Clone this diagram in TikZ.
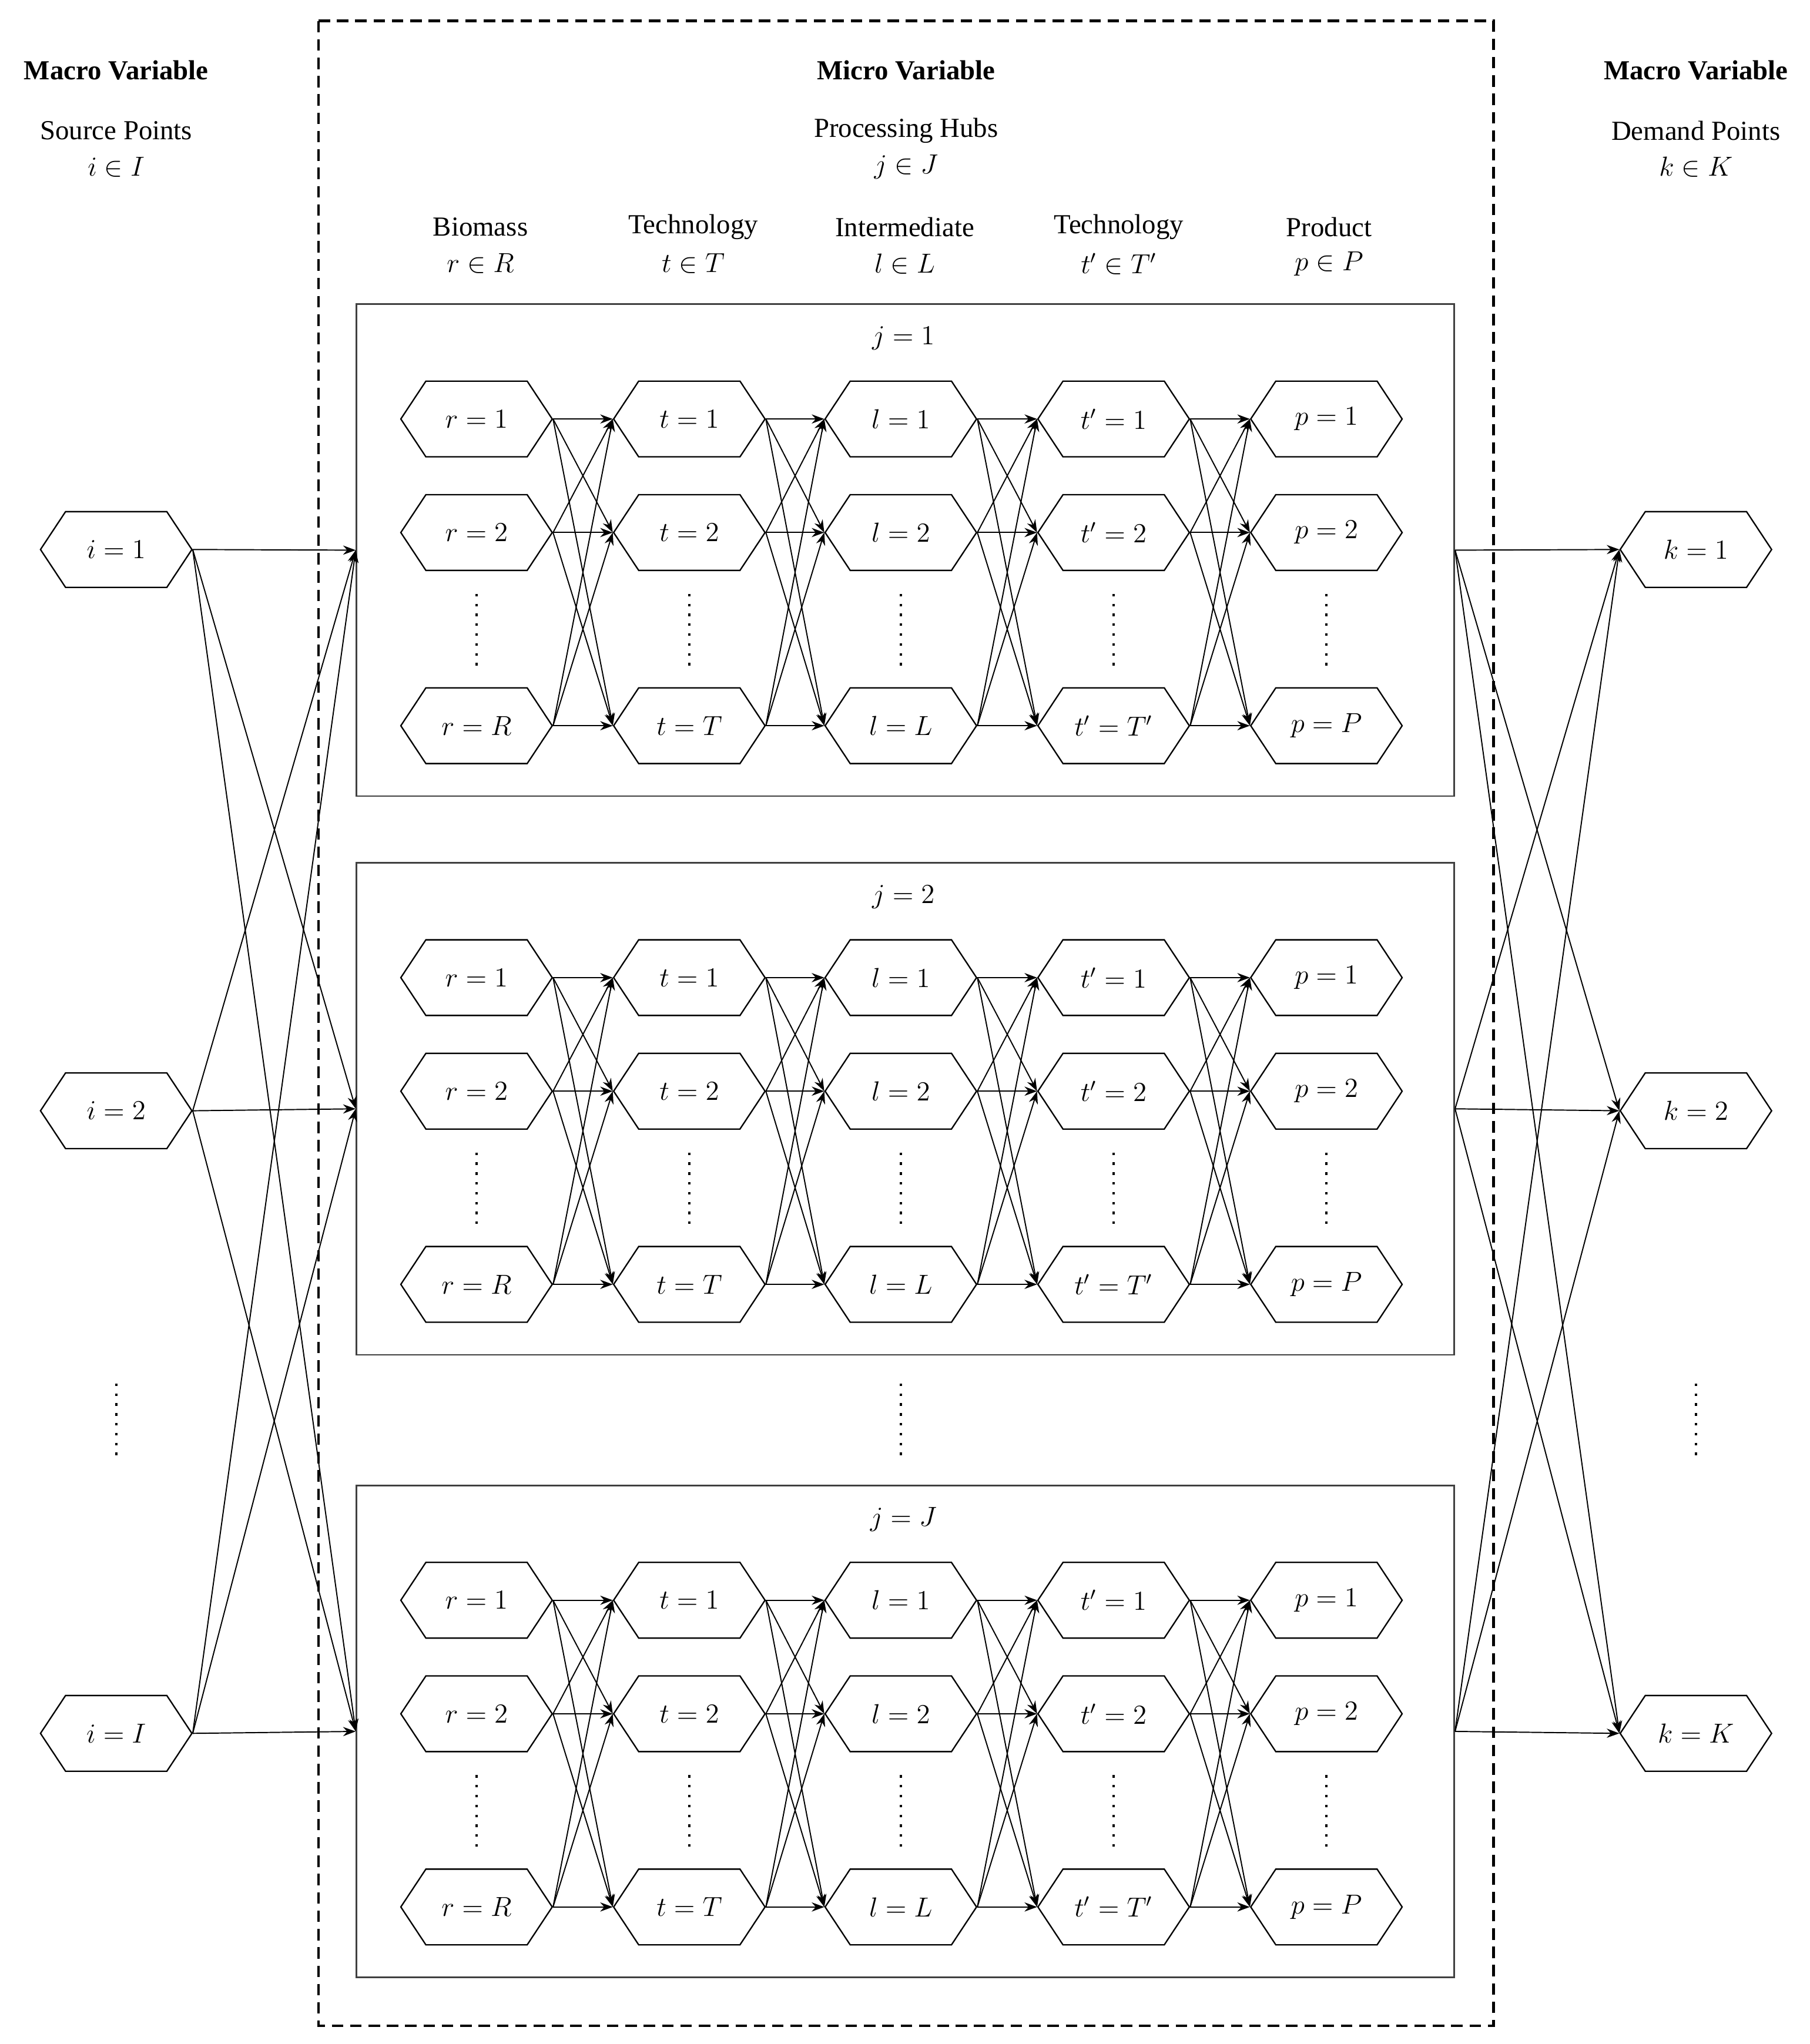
\documentclass[tikz,border=0pt]{standalone}
\usepackage{fontspec}
\setmainfont{Liberation Serif}
\usetikzlibrary{shapes.symbols,arrows.meta}
\begin{document}
\begin{tikzpicture}[x=0.02cm,y=-0.02cm,
  font=\fontsize{12}{14}\selectfont,
  hex/.style={signal, signal to=west and east, signal pointer angle=113, draw, line width=0.6pt,
    minimum width=2.32cm, minimum height=1.16cm, inner sep=0pt},
  arr/.style={line width=0.5pt, -{Stealth[length=5.5pt,width=4pt]}},
  dots/.style={line width=1.1pt, dash pattern=on 1.1pt off 3.2pt},
  hub/.style={draw=black!75, line width=0.7pt, minimum width=16.82cm, minimum height=7.54cm, inner sep=0pt}]
\useasboundingbox (0,0) rectangle (1386,1566);
\draw[line width=1.2pt, dash pattern=on 5pt off 3pt] (244,16) rectangle (1144,1552);
% headers
\node[font=\fontsize{12}{14}\selectfont\bfseries] (mh1) at (89,54) {Macro Variable};
\node (sp) at (89,100) {Source Points};
\node (spi) at (89,128) {$i\in I$};
\node[font=\fontsize{12}{14}\selectfont\bfseries] (mh2) at (694,54) {Micro Variable};
\node (ph) at (694,100) {Processing Hubs};
\node (phj) at (694,128) {$j\in J$};
\node[font=\fontsize{12}{14}\selectfont\bfseries] (mh3) at (1299,54) {Macro Variable};
\node (dp) at (1299,100) {Demand Points};
\node (dpk) at (1299,128) {$k\in K$};
\foreach \x/\a/\b [count=\c] in {368/Biomass/{r\in R},531/Technology/{t\in T},693/Intermediate/{l\in L},857/Technology/{t'\in T'},1018/Product/{p\in P}}{
  \node (ch\c) at (\x,174) {\a};
  \node (cs\c) at (\x,202) {$\b$};
}
% hubs
\foreach \h/\top/\jl in {1/233/1,2/661/2,3/1138/J}{
  \node[hub] (hub\h) at (693.5,\top+188.5) {};
  \node (jl\h) at (692,\top+26) {$j=\jl$};
  \foreach \x/\v/\last [count=\c] in {365/r/R,528/t/T,690/l/L,853/t'/T',1016/p/P}{
    \node[hex] (h\h c\c r1) at (\x,\top+88) {$\v=1$};
    \node[hex] (h\h c\c r2) at (\x,\top+175) {$\v=2$};
    \node[hex] (h\h c\c r3) at (\x,\top+323) {$\v=\last$};
    \draw[dots] (\x,\top+222) -- (\x,\top+278);
  }
  \foreach \c [evaluate=\c as \n using int(\c+1)] in {1,...,4}
    \foreach \a in {1,2,3}
      \foreach \b in {1,2,3}
        \draw[arr] (h\h c\c r\a.east) -- (h\h c\n r\b.west);
}
\draw[dots] (690,1060) -- (690,1116);
% sources / demands
\foreach \y/\l [count=\n] in {421/1,851/2,1328/I}
  \node[hex] (i\n) at (89,\y) {$i=\l$};
\foreach \y/\l [count=\n] in {421/1,851/2,1328/K}
  \node[hex] (k\n) at (1299,\y) {$k=\l$};
\draw[dots] (89,1060) -- (89,1116);
\draw[dots] (1299,1060) -- (1299,1116);
\foreach \a in {1,2,3}
  \foreach \b in {1,2,3}{
    \draw[arr] (i\a.east) -- (hub\b.west);
    \draw[arr] (hub\b.east) -- (k\a.west);
  }
\end{tikzpicture}
\end{document}
